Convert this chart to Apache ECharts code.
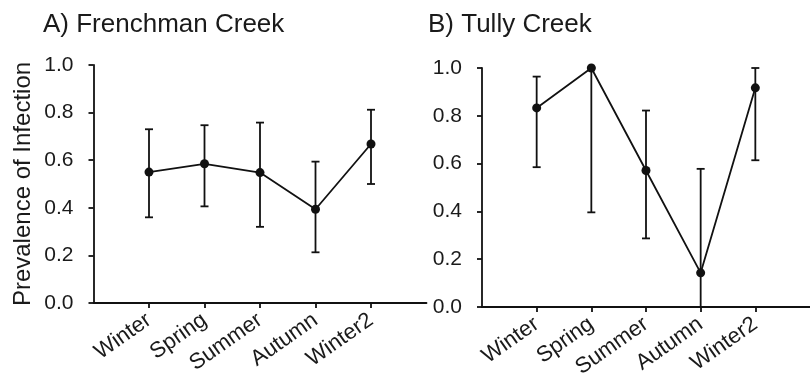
<!DOCTYPE html>
<html>
<head>
<meta charset="utf-8">
<script src="https://cdn.jsdelivr.net/npm/echarts@6/dist/echarts.min.js"></script>
<style>
html,body{margin:0;padding:0;background:#fff;}
#chart{width:810px;height:385px;}
</style>
</head>
<body>
<div id="chart"></div>
<script>
// seasons on the x axis
var categories = ['Winter', 'Spring', 'Summer', 'Autumn', 'Winter2'];
var yTicks = [0, 0.2, 0.4, 0.6, 0.8, 1.0];

// A) Frenchman Creek
var frenchMean = [0.55, 0.585, 0.548, 0.394, 0.668];
var frenchLow = [0.36, 0.406, 0.32, 0.213, 0.50];
var frenchHigh = [0.73, 0.747, 0.758, 0.594, 0.812];

// B) Tully Creek
var tullyMean = [0.833, 1.0, 0.571, 0.143, 0.917];
var tullyLow = [0.585, 0.396, 0.287, 0.0, 0.614];
var tullyHigh = [0.964, 1.0, 0.822, 0.578, 1.0];

var FONT = 'Liberation Sans, Arial, sans-serif';
var INK = '#111';
var catPos = categories.map(function (c, i) { return i + 1; });

function points(vals) {
  return vals.map(function (v, i) { return [i + 1, v]; });
}
function bars(lo, hi) {
  return lo.map(function (v, i) { return [i + 1, v, hi[i]]; });
}

function renderBar(params, api) {
  var x = api.value(0);
  var lo = api.coord([x, api.value(1)]);
  var hi = api.coord([x, api.value(2)]);
  var w = 4;
  var st = { stroke: INK, lineWidth: 1.8 };
  return {
    type: 'group',
    children: [
      { type: 'line', shape: { x1: lo[0], y1: lo[1], x2: hi[0], y2: hi[1] }, style: st },
      { type: 'line', shape: { x1: lo[0] - w, y1: lo[1], x2: lo[0] + w, y2: lo[1] }, style: st },
      { type: 'line', shape: { x1: hi[0] - w, y1: hi[1], x2: hi[0] + w, y2: hi[1] }, style: st }
    ]
  };
}

function xAxis(idx) {
  return {
    type: 'value', gridIndex: idx, min: 0, max: 6, interval: 1,
    splitLine: { show: false },
    axisLine: { lineStyle: { color: INK, width: 1.8 } },
    axisTick: { length: 5, customValues: catPos, lineStyle: { color: INK, width: 1.8 } },
    axisLabel: {
      customValues: catPos, rotate: 35, margin: 15,
      color: '#1a1a1a', fontFamily: FONT, fontSize: 22,
      formatter: function (v) { return categories[Math.round(v) - 1] || ''; }
    }
  };
}

function yAxis(idx, name) {
  return {
    type: 'value', gridIndex: idx, min: yTicks[0], max: yTicks[yTicks.length - 1], interval: 0.2,
    name: name, nameLocation: 'middle', nameGap: 58,
    nameTextStyle: { color: '#1a1a1a', fontFamily: FONT, fontSize: 24 },
    splitLine: { show: false },
    axisLine: { show: true, lineStyle: { color: INK, width: 1.8 } },
    axisTick: { show: true, length: 5, lineStyle: { color: INK, width: 1.8 } },
    axisLabel: {
      margin: 20, color: '#1a1a1a', fontFamily: FONT, fontSize: 21,
      formatter: function (v) { return v.toFixed(1); }
    }
  };
}

var chart = echarts.init(document.getElementById('chart'));
chart.setOption({
  animation: false,
  backgroundColor: '#fff',
  title: [
    { text: 'A) Frenchman Creek', left: 38, top: 7, textStyle: { color: '#1a1a1a', fontFamily: FONT, fontSize: 26, fontWeight: 'normal' } },
    { text: 'B) Tully Creek', left: 423, top: 7, textStyle: { color: '#1a1a1a', fontFamily: FONT, fontSize: 26, fontWeight: 'normal' } }
  ],
  grid: [
    { left: 93.5, top: 65, width: 333, height: 238 },
    { left: 482, top: 68, width: 333, height: 239 }
  ],
  xAxis: [xAxis(0), xAxis(1)],
  yAxis: [yAxis(0, 'Prevalence of Infection'), yAxis(1, '')],
  series: [
    {
      type: 'custom', xAxisIndex: 0, yAxisIndex: 0, renderItem: renderBar,
      data: bars(frenchLow, frenchHigh), z: 2
    },
    {
      type: 'line', xAxisIndex: 0, yAxisIndex: 0, data: points(frenchMean),
      symbol: 'circle', symbolSize: 9, itemStyle: { color: INK },
      lineStyle: { color: INK, width: 1.8 }, z: 3
    },
    {
      type: 'custom', xAxisIndex: 1, yAxisIndex: 1, renderItem: renderBar,
      data: bars(tullyLow, tullyHigh), z: 2
    },
    {
      type: 'line', xAxisIndex: 1, yAxisIndex: 1, data: points(tullyMean),
      symbol: 'circle', symbolSize: 9, itemStyle: { color: INK },
      lineStyle: { color: INK, width: 1.8 }, z: 3
    }
  ]
});
</script>
</body>
</html>
